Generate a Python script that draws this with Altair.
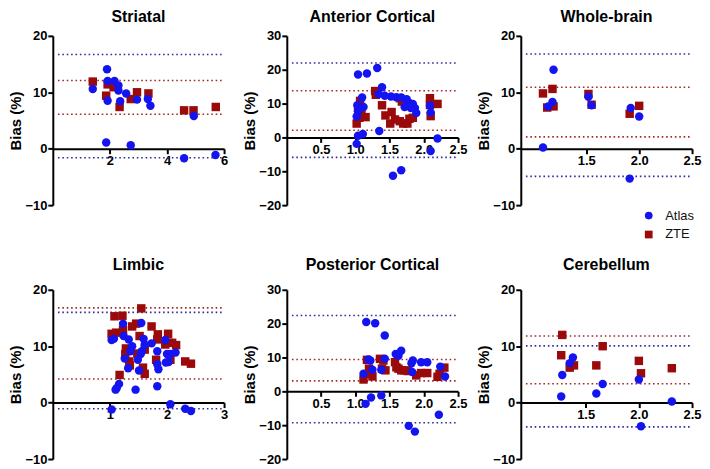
import altair as alt
import pandas as pd

# ---------------- data ----------------
STRIATAL_ATLAS = [(1.40, 10.6), (1.90, 14.1), (1.92, 12.0), (1.92, 8.5), (1.87, 1.1), (2.16, 12.0),
                  (2.30, 11.2), (2.30, 10.3), (2.36, 8.4), (2.57, 9.8), (2.95, 8.7), (2.73, 0.6),
                  (3.33, 8.8), (3.42, 7.6), (4.94, 5.8), (4.60, -1.7), (5.70, -1.1)]
STRIATAL_ZTE = [(1.40, 11.9), (1.87, 9.4), (1.92, 11.4), (2.13, 10.9), (2.34, 7.4), (2.73, 8.8),
                (2.95, 10.0), (3.35, 9.8), (4.60, 6.8), (4.93, 6.8), (5.71, 7.4)]

ANTERIOR_ATLAS = [(1.04, 18.6), (1.17, 18.9), (1.32, 20.5), (1.39, 14.8), (1.10, 11.8), (1.03, 9.5),
                  (1.12, 9.0), (1.04, 7.7), (1.02, 6.2), (1.35, 1.9), (1.04, 0.5), (1.11, 1.0),
                  (1.02, -1.9), (2.09, 9.4), (2.10, 7.4), (2.20, -0.3), (2.10, -4.0), (1.34, 12.8),
                  (1.43, 12.3), (1.52, 12.1), (1.60, 11.9), (1.67, 11.8), (1.75, 11.3), (1.78, 10.3),
                  (1.84, 9.9), (1.72, 9.0), (1.87, 8.7), (1.81, 8.7), (1.89, 7.2), (1.55, -11.3),
                  (1.67, -9.7)]
ANTERIOR_ZTE = [(1.02, 4.1), (1.06, 5.8), (1.15, 6.0), (1.09, 7.2), (1.07, 10.8), (1.04, 8.7),
                (1.29, 13.7), (1.30, 12.6), (1.39, 9.5), (1.44, 6.5), (1.53, 7.5), (1.51, 4.1),
                (1.58, 5.3), (1.65, 4.8), (1.70, 4.1), (1.76, 4.1), (1.79, 5.5), (1.84, 5.8),
                (1.65, 11.6), (1.68, 10.6), (2.09, 11.6), (2.10, 6.3), (2.20, 9.9), (2.09, 9.6)]

WHOLE_ATLAS = [(1.19, 14.0), (1.18, 8.3), (1.14, 7.5), (1.09, 0.2), (1.52, 9.2), (1.55, 7.7),
               (1.92, 7.2), (2.00, 5.7), (1.91, -5.3)]
WHOLE_ZTE = [(1.09, 9.8), (1.18, 10.6), (1.13, 7.3), (1.19, 7.5), (1.52, 9.7), (1.55, 7.8),
             (1.91, 6.2), (2.00, 7.6)]

LIMBIC_ATLAS = [(1.23, 14.0), (1.55, 14.1), (1.03, 11.1), (1.07, 11.3), (1.24, 11.8), (1.33, 11.2),
                (1.39, 10.0), (1.59, 11.3), (1.61, 10.3), (1.73, 10.5), (1.56, 9.1), (1.36, 9.1),
                (1.54, 8.6), (1.83, 9.1), (1.97, 11.1), (2.00, 8.6), (2.06, 8.6), (2.15, 8.9),
                (2.03, 7.2), (1.98, 7.1), (1.26, 7.8), (1.49, 7.6), (1.83, 6.8), (1.85, 5.9),
                (1.32, 6.1), (1.51, 5.7), (1.16, 3.3), (1.12, 2.6), (1.10, 2.3), (1.45, 2.3),
                (1.83, 2.9), (1.03, -1.2), (2.06, -0.3), (2.32, -1.1), (2.42, -1.5)]
LIMBIC_ZTE = [(1.55, 16.7), (1.08, 15.3), (1.22, 15.4), (1.03, 12.2), (1.11, 12.4), (1.23, 12.9),
              (1.39, 13.5), (1.46, 14.0), (1.73, 13.5), (1.84, 12.1), (2.02, 12.2), (1.97, 10.3),
              (2.03, 10.6), (2.09, 10.6), (2.16, 10.2), (1.52, 11.8), (1.83, 11.2), (1.28, 9.6),
              (1.61, 9.4), (1.27, 8.6), (1.34, 7.3), (1.48, 8.7), (1.58, 6.2), (1.61, 5.1),
              (1.35, 6.6), (1.17, 4.9), (1.81, 7.6), (2.06, 7.6), (2.32, 7.3), (2.42, 6.9)]

POSTERIOR_ATLAS = [(1.16, 20.5), (1.29, 20.1), (1.43, 16.5), (1.59, 11.0), (1.67, 12.0), (1.63, 10.5),
                   (1.19, 9.4), (1.22, 9.1), (1.43, 9.6), (1.84, 9.1), (1.82, 8.3), (1.96, 8.6),
                   (2.05, 8.6), (2.24, 7.3), (2.31, 4.4), (1.12, 5.2), (1.25, 6.4), (1.38, 6.4),
                   (1.83, 5.7), (1.15, -3.7), (1.23, -1.8), (1.38, -1.2), (1.78, -10.2),
                   (1.87, -11.9), (2.22, -6.9)]
POSTERIOR_ZTE = [(1.12, 3.5), (1.17, 9.3), (1.20, 6.7), (1.23, 5.2), (1.25, 4.4), (1.36, 9.6),
                 (1.41, 9.1), (1.39, 6.7), (1.44, 6.2), (1.60, 7.1), (1.58, 8.6), (1.63, 6.7),
                 (1.67, 6.2), (1.72, 6.2), (1.77, 6.0), (1.89, 4.7), (1.96, 5.4), (2.05, 5.4),
                 (2.20, 4.3), (2.30, 7.0), (2.23, 5.2)]

CEREBELLUM_ATLAS = [(1.27, 1.1), (1.28, 4.9), (1.35, 7.0), (1.38, 8.0), (1.60, 1.6), (1.66, 3.3),
                    (2.00, 4.1), (2.02, -4.2), (2.31, 0.2)]
CEREBELLUM_ZTE = [(1.28, 12.0), (1.27, 8.4), (1.35, 6.2), (1.39, 6.6), (1.60, 6.6), (1.66, 10.0),
                  (2.00, 7.4), (2.02, 5.2), (2.31, 6.1)]

# limits of agreement (Atlas = blue dotted, ZTE = red dotted)
STRIATAL_LIMITS_ATLAS = [16.7, -1.6]
STRIATAL_LIMITS_ZTE = [12.1, 6.1]
ANTERIOR_LIMITS_ATLAS = [22.0, -5.9]
ANTERIOR_LIMITS_ZTE = [13.8, 2.1]
WHOLE_LIMITS_ATLAS = [16.8, -4.9]
WHOLE_LIMITS_ZTE = [10.9, 2.1]
LIMBIC_LIMITS_ATLAS = [16.0, -1.1]
LIMBIC_LIMITS_ZTE = [16.8, 4.2]
POSTERIOR_LIMITS_ATLAS = [22.4, -9.3]
POSTERIOR_LIMITS_ZTE = [9.4, 3.1]
CEREBELLUM_LIMITS_ATLAS = [10.05, -4.3]
CEREBELLUM_LIMITS_ZTE = [11.8, 3.35]

TITLES = ["Striatal", "Anterior Cortical", "Whole-brain", "Limbic", "Posterior Cortical", "Cerebellum"]
X_DOMAINS = [[0, 6], [0, 2.5], [0.88, 2.5], [0, 3], [0, 2.5], [0.89, 2.5]]
X_TICKS = [[2, 4, 6], [0.5, 1.0, 1.5, 2.0, 2.5], [1.5, 2.0, 2.5], [1, 2, 3],
           [0.5, 1.0, 1.5, 2.0, 2.5], [1.5, 2.0, 2.5]]
X_FORMATS = ["d", ".1f", ".1f", "d", ".1f", ".1f"]
Y_DOMAINS = [[-10, 20], [-20, 30], [-10, 20], [-10, 20], [-20, 30], [-10, 20]]
Y_TICKS = [[-10, 0, 10, 20], [-20, -10, 0, 10, 20, 30], [-10, 0, 10, 20],
           [-10, 0, 10, 20], [-20, -10, 0, 10, 20, 30], [-10, 0, 10, 20]]
TITLE_OFFSETS = [5, 5, 5, 11, 11, 11]

SERIES = ["Atlas", "ZTE"]
POINT_COLORS = ["#1414f0", "#9a0a0a"]
LINE_BLUE = "#2f2f9c"
LINE_RED = "#a22a2a"
FONT = "Liberation Sans"

W, H = 172, 170


def make_panel(i, atlas, zte, lim_atlas, lim_zte):
    xdom, ydom = X_DOMAINS[i], Y_DOMAINS[i]
    pts = pd.DataFrame(
        [{"x": x, "y": y, "Method": "ZTE"} for x, y in zte]
        + [{"x": x, "y": y, "Method": "Atlas"} for x, y in atlas]
    )
    x0 = xdom[0] + 0.03 * (xdom[1] - xdom[0])
    lines_b = pd.DataFrame({"y": lim_atlas, "x0": [x0] * len(lim_atlas), "x1": [xdom[1]] * len(lim_atlas)})
    lines_r = pd.DataFrame({"y": lim_zte, "x0": [x0] * len(lim_zte), "x1": [xdom[1]] * len(lim_zte)})

    xscale = alt.Scale(domain=xdom, nice=False, zero=False)
    yscale = alt.Scale(domain=ydom, nice=False, zero=False)
    off = -H * (0 - ydom[0]) / (ydom[1] - ydom[0])
    xaxis = alt.Axis(values=X_TICKS[i], format=X_FORMATS[i], offset=off, title=None,
                     labelFlush=False, labelOverlap=False)
    yaxis = alt.Axis(values=Y_TICKS[i], format="d", title="Bias (%)",
                     labelFlush=False, labelOverlap=False)

    def rules(df, col):
        return alt.Chart(df).mark_rule(strokeDash=[1.6, 2.8], strokeWidth=1.6, color=col).encode(
            x=alt.X("x0:Q", scale=xscale, axis=xaxis),
            x2="x1:Q",
            y=alt.Y("y:Q", scale=yscale, axis=yaxis),
        )

    legend = alt.Legend(title=None, orient="none", legendX=592, legendY=174)
    points = alt.Chart(pts).mark_point(filled=True, size=72, opacity=1).encode(
        x=alt.X("x:Q", scale=xscale, axis=xaxis),
        y=alt.Y("y:Q", scale=yscale, axis=yaxis),
        color=alt.Color("Method:N", scale=alt.Scale(domain=SERIES, range=POINT_COLORS), legend=legend),
        shape=alt.Shape("Method:N", scale=alt.Scale(domain=SERIES, range=["circle", "square"]),
                        legend=legend),
    )
    return alt.layer(rules(lines_b, LINE_BLUE), rules(lines_r, LINE_RED), points).properties(
        width=W, height=H,
        title=alt.TitleParams(TITLES[i], font=FONT, fontSize=16, fontWeight="bold", color="black",
                              anchor="middle", frame="group", offset=TITLE_OFFSETS[i]),
    )


panels = [
    make_panel(0, STRIATAL_ATLAS, STRIATAL_ZTE, STRIATAL_LIMITS_ATLAS, STRIATAL_LIMITS_ZTE),
    make_panel(1, ANTERIOR_ATLAS, ANTERIOR_ZTE, ANTERIOR_LIMITS_ATLAS, ANTERIOR_LIMITS_ZTE),
    make_panel(2, WHOLE_ATLAS, WHOLE_ZTE, WHOLE_LIMITS_ATLAS, WHOLE_LIMITS_ZTE),
    make_panel(3, LIMBIC_ATLAS, LIMBIC_ZTE, LIMBIC_LIMITS_ATLAS, LIMBIC_LIMITS_ZTE),
    make_panel(4, POSTERIOR_ATLAS, POSTERIOR_ZTE, POSTERIOR_LIMITS_ATLAS, POSTERIOR_LIMITS_ZTE),
    make_panel(5, CEREBELLUM_ATLAS, CEREBELLUM_ZTE, CEREBELLUM_LIMITS_ATLAS, CEREBELLUM_LIMITS_ZTE),
]

chart = alt.concat(*panels, columns=3, spacing={"row": 85, "column": 63}, bounds="flush").resolve_scale(
    color="shared", shape="shared"
).properties(padding=0).configure_view(stroke=None).configure_axis(
    grid=False,
    domainColor="black", domainWidth=2,
    tickColor="black", tickWidth=2, tickSize=5,
    labelFont=FONT, labelFontWeight="bold", labelFontSize=13, labelColor="black", labelPadding=1,
    titleFont=FONT, titleFontWeight="bold", titleFontSize=15, titleColor="black", titlePadding=1,
).configure_legend(
    labelFont=FONT, labelFontSize=13, labelColor="#111111", symbolSize=60,
    labelOffset=10, rowPadding=5, padding=0,
)

chart.save("out.html", embed_options={"renderer": "svg", "actions": False})
